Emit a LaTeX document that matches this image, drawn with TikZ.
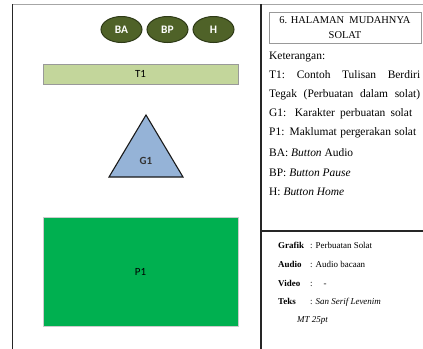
\documentclass[tikz,border=0pt]{standalone}
\usepackage{fontspec}
\setmainfont{Liberation Serif}
\newfontfamily\uifont{Carlito}
\definecolor{olivedark}{HTML}{4F6228}
\definecolor{oliveedge}{HTML}{2E3A17}
\definecolor{olivelight}{HTML}{C3D69B}
\definecolor{skyblue}{HTML}{95B3D7}
\definecolor{brightgreen}{HTML}{00B050}
\tikzset{
  btn/.style={ellipse, draw=oliveedge, line width=1pt, fill=olivedark,
    minimum width=41bp, minimum height=26bp, inner sep=0pt,
    text=white, font=\uifont\bfseries\fontsize{11.5}{12}\selectfont},
  bar/.style={draw=gray!80, line width=0.6pt, fill=olivelight, inner sep=0pt,
    font=\uifont\fontsize{11}{12}\selectfont},
  panel/.style={draw=black!85, line width=1.6pt},
  note/.style={anchor=base west, inner sep=0pt, font=\fontsize{11.5}{12}\selectfont},
  spec/.style={anchor=base west, inner sep=0pt, font=\fontsize{9}{11}\selectfont},
  speclabel/.style={spec, font=\bfseries\fontsize{9}{11}\selectfont},
}
\usetikzlibrary{shapes.geometric}
\begin{document}
\begin{tikzpicture}[x=1bp,y=-1bp]
\useasboundingbox (0,0) rectangle (423,349);

% frame
\coordinate (tl) at (12.5,4);
\coordinate (bl) at (12.5,349);
\coordinate (tr) at (423,4);
\coordinate (dtop) at (261,4);
\coordinate (dbot) at (261,349);
\coordinate (hl) at (261,231);
\coordinate (hr) at (423,231);
\draw[gray!70, line width=0.8pt] (tl) -- (tr);
\draw[panel] (tl) -- (bl);
\draw[panel] (dtop) -- (dbot);
\draw[panel] (hl) -- (hr);

% screen layout
\node[btn] (ba) at (121.5,29.5) {BA};
\node[btn] (bp) at (167.5,29.5) {BP};
\node[btn] (h) at (213.5,29.5) {H};

\node[bar, minimum width=195bp, minimum height=20bp] (t1) at (140.5,74) {T1};

\coordinate (apex) at (146,115);
\coordinate (bright) at (183,177);
\coordinate (bleft) at (109,177);
\draw[fill=skyblue, draw=black!90, line width=1.1pt, line join=miter] (apex) -- (bright) -- (bleft) -- cycle;
\node[font=\uifont\bfseries\fontsize{11}{12}\selectfont, text=black!80] (g1) at (146,161) {G1};

\node[draw=gray!40, line width=0.6pt, fill=brightgreen, minimum width=195bp, minimum height=109bp,
  inner sep=0pt, font=\uifont\fontsize{11}{12}\selectfont] (p1) at (140.5,271.5) {P1};

% title box
\node[draw=gray!80, line width=0.6pt, minimum width=152bp, minimum height=31bp, inner sep=0pt,
  align=center, font=\fontsize{10.5}{15}\selectfont] (title) at (345,27.5) {6. HALAMAN\ \ MUDAHNYA\\SOLAT};

% legend
\node[note] (ket) at (269,59) {Keterangan:};
\node[note] (lt1) at (269,78) {\makebox[151bp][s]{T1:\hfill Contoh\hfill Tulisan\hfill Berdiri}};
\node[note] (lt2) at (269,97) {\makebox[151bp][s]{Tegak (Perbuatan dalam solat)}};
\node[note] (lg1) at (269,116) {\makebox[143bp][s]{G1: Karakter perbuatan solat}};
\node[note] (lp1) at (269,135) {\makebox[147bp][s]{P1: Maklumat pergerakan solat}};
\node[note] (lba) at (269,156) {BA: \textit{Button} Audio};
\node[note] (lbp) at (269,176) {BP: \textit{Button Pause}};
\node[note] (lh) at (269,195) {H: \textit{Button Home}};

% media specification
\node[speclabel] (sg) at (278,248) {Grafik};
\node[speclabel] (sa) at (278,267) {Audio};
\node[speclabel] (sv) at (278,286) {Video};
\node[speclabel] (st) at (278,304) {Teks};
\node[spec] (vg) at (310,248) {: Perbuatan Solat};
\node[spec] (va) at (310,267) {: Audio bacaan};
\node[spec] (vv) at (310,286) {:\hspace{11bp}-};
\node[spec] (vt) at (310,304) {: \textit{San Serif Levenim}};
\node[spec] (vt2) at (297,322) {\textit{MT 25pt}};
\end{tikzpicture}
\end{document}
